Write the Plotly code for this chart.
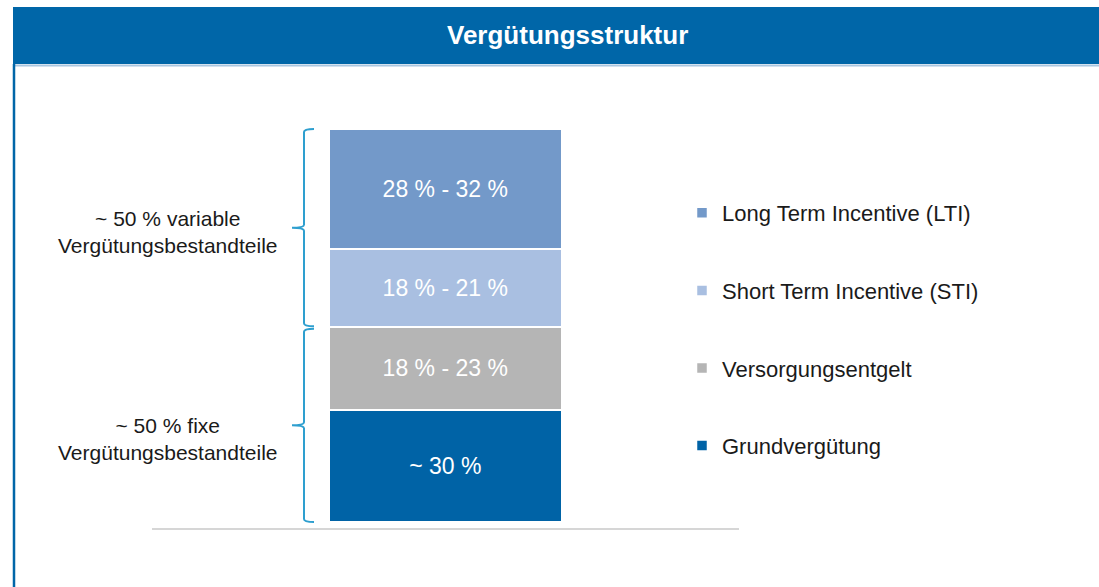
import plotly.graph_objects as go

# ---- data ----
components = ["Grundvergütung", "Versorgungsentgelt",
              "Short Term Incentive (STI)", "Long Term Incentive (LTI)"]
shares = [28.5, 21.0, 20.0, 30.5]          # estimated segment heights (%)
range_labels = ["~ 30 %", "18 % - 23 %", "18 % - 21 %", "28 % - 32 %"]
colors = ["#0063a6", "#b5b5b5", "#a9bfe1", "#7399c9"]
category = ["Vergütung"]
group_labels = ["~ 50 % fixe<br>Vergütungsbestandteile",
                "~ 50 % variable<br>Vergütungsbestandteile"]
title_text = "Vergütungsstruktur"

FONT = "Liberation Sans, Arial, sans-serif"
W, H = 1099, 587
L, R, T, B = 152, 360, 100, 59
plot_w, plot_h = W - L - R, H - T - B


def px_x(p):
    return (p - L) / plot_w


def px_y(p):
    return (H - B - p) / plot_h


fig = go.Figure()
n = len(components)
for i, (name, val, lab, col) in enumerate(zip(components, shares, range_labels, colors)):
    fig.add_trace(go.Bar(
        x=category, y=[val], name=name, text=[lab],
        textposition="inside", insidetextanchor="middle",
        textfont=dict(family=FONT, size=23, color="white"),
        marker=dict(color=col, line=dict(color="white", width=2.5)),
        width=0.397, legendgroup=f"g{i}", legendrank=n - i,
    ))

total = sum(shares)
split = shares[0] + shares[1]
# y range so that 0 sits at pixel 522 and 100 at pixel 129
unit = (522 - 129) / total
y_lo = -(H - B - 522) / unit
y_hi = total + (129 - T) / unit

shapes = []
# title bar and frame
shapes.append(dict(type="rect", xref="paper", yref="paper",
                   x0=px_x(13), x1=px_x(1105), y0=px_y(64), y1=px_y(7),
                   fillcolor="#0066a8", line=dict(width=0), layer="below"))
shapes.append(dict(type="line", xref="paper", yref="paper",
                   x0=px_x(13), x1=px_x(1105), y0=px_y(65.5), y1=px_y(65.5),
                   line=dict(color="#a9c6e0", width=2), layer="below"))
shapes.append(dict(type="line", xref="paper", yref="paper",
                   x0=px_x(14), x1=px_x(14), y0=px_y(64), y1=px_y(600),
                   line=dict(color="#0066a8", width=2.5), layer="below"))

# braces
xv, xh, xt = px_x(304), px_x(314), px_x(292)
r = 3 / unit


def brace(top, bot):
    mid = (top + bot) / 2
    return (f"M {xh},{top} Q {xv},{top} {xv},{top - r} "
            f"L {xv},{mid + r} Q {xv},{mid} {xt},{mid} "
            f"Q {xv},{mid} {xv},{mid - r} "
            f"L {xv},{bot + r} Q {xv},{bot} {xh},{bot}")


brace_col = "#2e9fcf"
for top, bot in [(total, split + 0.3), (split - 0.3, 0)]:
    shapes.append(dict(type="path", xref="paper", yref="y", path=brace(top, bot),
                       line=dict(color=brace_col, width=2)))

annotations = [
    dict(text=f"<b>{title_text}</b>", xref="paper", yref="paper",
         x=px_x(567), y=px_y(35), xanchor="center", yanchor="middle",
         showarrow=False, font=dict(family=FONT, size=26, color="white")),
    dict(text=group_labels[1], xref="paper", yref="y",
         x=px_x(168), y=(split + total) / 2, yshift=-4,
         xanchor="center", yanchor="middle", showarrow=False,
         font=dict(family=FONT, size=21, color="#1a1a1a"), align="center"),
    dict(text=group_labels[0], xref="paper", yref="y",
         x=px_x(168), y=split / 2, yshift=-14,
         xanchor="center", yanchor="middle", showarrow=False,
         font=dict(family=FONT, size=21, color="#1a1a1a"), align="center"),
]

fig.update_layout(
    width=W, height=H,
    margin=dict(l=L, r=R, t=T, b=B),
    paper_bgcolor="white", plot_bgcolor="white",
    barmode="stack", bargap=0,
    showlegend=True,
    legend=dict(x=px_x(682), y=px_y(192), xanchor="left", yanchor="top",
                traceorder="grouped", tracegroupgap=46,
                font=dict(family=FONT, size=22, color="#1a1a1a"),
                bgcolor="rgba(0,0,0,0)", itemclick=False),
    xaxis=dict(showgrid=False, showticklabels=False, zeroline=False,
               showline=True, linecolor="#d6d6d6", linewidth=2,
               range=[-0.5, 0.5], fixedrange=True),
    yaxis=dict(visible=False, range=[y_lo, y_hi], fixedrange=True),
    shapes=shapes, annotations=annotations,
    font=dict(family=FONT),
)

fig.write_html("out.html")
